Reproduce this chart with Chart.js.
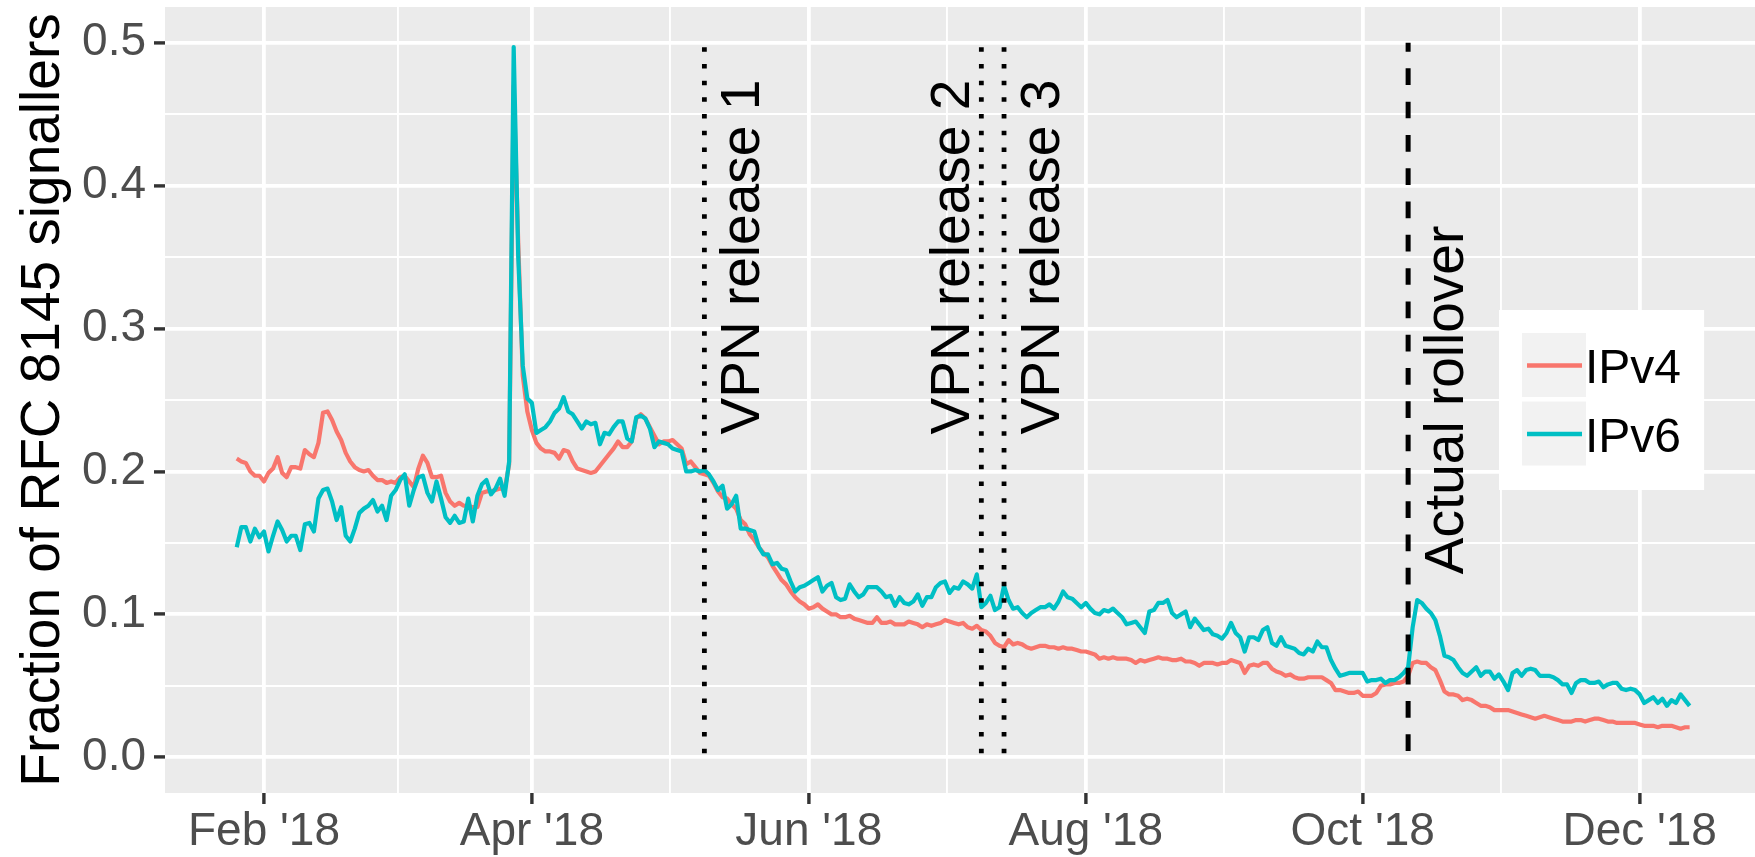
<!DOCTYPE html>
<html><head><meta charset="utf-8">
<script src="https://cdn.jsdelivr.net/npm/chart.js@4.4.1/dist/chart.umd.min.js"></script>
<style>html,body{margin:0;padding:0;background:#fff;}#c{display:block;}</style>
</head><body>
<canvas id="c" width="1755" height="857"></canvas>
<script>
// ---------------- data ----------------
const startDate = '2018-01-26';            // first daily observation
const seriesNames = ['IPv4', 'IPv6'];
const ipv4 = [
0.209,0.207,0.206,0.200,0.197,0.197,0.193,0.199,0.202,0.210,
0.199,0.196,0.203,0.203,0.202,0.215,0.212,0.210,0.220,0.241,
0.242,0.236,0.228,0.222,0.213,0.207,0.203,0.201,0.200,0.201,
0.197,0.194,0.194,0.192,0.193,0.192,0.196,0.197,0.193,0.189,
0.202,0.211,0.206,0.196,0.196,0.197,0.185,0.179,0.176,0.178,
0.176,0.176,0.175,0.175,
0.185,0.186,0.186,0.187,0.188,0.187,0.205,0.470,0.360,0.267,
0.242,0.229,0.220,0.216,0.214,0.214,0.213,0.209,0.215,0.214,
0.207,0.202,0.201,0.200,0.199,0.200,0.204,0.208,0.212,0.216,
0.221,0.217,0.217,0.221,0.237,0.240,0.237,0.231,0.225,0.219,
0.221,0.221,0.222,0.219,0.216,0.205,0.207,0.203,0.199,0.198,
0.197,0.192,
0.186,
0.182,0.181,0.177,0.174,0.166,0.163,0.156,0.152,0.147,0.143,
0.140,0.134,0.129,0.124,0.121,0.116,0.112,0.109,0.107,0.104,
0.105,0.107,0.104,0.102,0.100,0.100,0.098,0.098,0.099,0.097,
0.096,0.095,0.094,0.094,0.098,0.094,0.094,0.095,0.093,0.093,
0.093,0.095,0.094,0.093,0.091,0.093,0.092,0.093,0.094,0.096,
0.095,0.094,0.093,0.094,0.091,
0.090,0.092,0.089,0.088,0.085,0.080,0.078,0.077,0.082,0.079,
0.080,0.079,0.077,0.076,0.077,0.078,0.078,0.077,0.077,0.076,
0.077,0.076,0.076,0.075,0.074,0.074,0.073,0.072,0.069,0.070,
0.069,0.070,0.069,0.069,0.069,0.068,0.066,0.068,0.067,0.068,
0.069,0.070,0.069,0.069,0.068,0.068,0.069,0.067,0.067,0.066,
0.064,0.066,0.066,0.066,0.065,
0.066,0.066,0.068,0.067,0.066,0.059,0.064,0.065,0.064,0.066,
0.066,0.062,0.060,0.059,0.057,0.058,0.056,0.055,0.055,0.056,
0.056,0.056,0.056,0.054,0.052,0.047,0.047,0.046,0.045,0.045,
0.046,0.043,0.043,0.043,0.045,0.050,0.051,0.051,0.052,0.052,
0.053,0.057,0.066,0.067,0.066,0.066,0.063,0.061,0.054,0.046,
0.044,0.044,0.043,0.040,
0.041,0.040,0.038,0.036,0.036,0.035,0.033,0.033,0.033,0.033,
0.032,0.031,0.030,0.029,0.028,0.027,0.028,0.029,0.028,0.027,
0.026,0.025,0.025,0.025,0.026,0.026,0.025,0.026,0.027,0.027,
0.026,0.025,0.025,0.024,0.024,0.024,0.024,0.024,0.023,0.022,
0.022,0.022,0.021,0.022,0.022,0.022,0.021,0.020,0.021,0.021
];
const ipv6 = [
0.147,0.161,0.161,0.151,0.160,0.154,0.158,0.144,0.155,0.165,
0.159,0.151,0.155,0.155,0.145,0.163,0.164,0.158,0.181,0.187,
0.188,0.179,0.166,0.175,0.155,0.151,0.160,0.171,0.174,0.176,
0.180,0.172,0.176,0.166,0.183,0.187,0.194,0.198,0.176,0.187,
0.196,0.197,0.185,0.179,0.193,0.181,0.168,0.164,0.169,0.164,
0.165,0.181,0.165,0.183,
0.191,0.194,0.184,0.188,0.195,0.183,0.207,0.497,0.350,0.274,
0.251,0.248,0.227,0.229,0.231,0.235,0.241,0.244,0.252,0.242,
0.240,0.235,0.230,0.235,0.233,0.234,0.219,0.227,0.226,0.231,
0.235,0.235,0.223,0.221,0.238,0.239,0.237,0.230,0.217,0.221,
0.220,0.219,0.216,0.215,0.214,0.200,0.200,0.201,0.200,0.201,
0.198,0.193,
0.187,
0.190,0.174,0.177,0.183,0.160,0.160,0.159,0.158,0.147,0.142,
0.142,0.135,0.136,0.132,0.131,0.123,0.116,0.119,0.120,0.122,
0.124,0.126,0.116,0.120,0.122,0.112,0.110,0.111,0.121,0.116,
0.112,0.114,0.119,0.119,0.119,0.116,0.112,0.113,0.106,0.112,
0.108,0.107,0.109,0.114,0.106,0.112,0.112,0.119,0.122,0.123,
0.115,0.119,0.118,0.123,0.121,
0.118,0.128,0.105,0.108,0.113,0.103,0.105,0.120,0.110,0.104,
0.105,0.101,0.098,0.101,0.103,0.105,0.105,0.107,0.104,0.109,
0.116,0.112,0.111,0.108,0.105,0.108,0.104,0.101,0.100,0.103,
0.102,0.104,0.101,0.098,0.093,0.094,0.095,0.091,0.087,0.102,
0.103,0.108,0.108,0.110,0.101,0.098,0.100,0.102,0.091,0.097,
0.093,0.089,0.090,0.086,0.085,
0.083,0.087,0.094,0.087,0.084,0.074,0.084,0.084,0.082,0.089,
0.091,0.080,0.078,0.084,0.078,0.077,0.076,0.073,0.072,0.076,
0.074,0.081,0.077,0.077,0.068,0.062,0.057,0.058,0.059,0.059,
0.059,0.059,0.053,0.054,0.054,0.055,0.052,0.054,0.054,0.056,
0.059,0.063,0.091,0.110,0.108,0.104,0.101,0.096,0.085,0.071,
0.070,0.068,0.063,0.059,
0.057,0.060,0.063,0.057,0.060,0.060,0.055,0.058,0.053,0.047,
0.059,0.061,0.057,0.061,0.062,0.061,0.057,0.057,0.057,0.056,
0.054,0.051,0.051,0.045,0.052,0.054,0.054,0.052,0.052,0.053,
0.049,0.051,0.052,0.052,0.048,0.047,0.048,0.047,0.044,0.038,
0.040,0.042,0.038,0.041,0.036,0.040,0.038,0.044,0.040,0.036
];
const xTickDates  = ['2018-02-01','2018-04-01','2018-06-01','2018-08-01','2018-10-01','2018-12-01'];
const xTickLabels = ["Feb '18","Apr '18","Jun '18","Aug '18","Oct '18","Dec '18"];
const yTickValues = [0, 0.1, 0.2, 0.3, 0.4, 0.5];
const yTickLabels = ['0.0','0.1','0.2','0.3','0.4','0.5'];
const eventDates  = ['2018-05-09','2018-07-09','2018-07-14','2018-10-11'];
const eventLabels = ['VPN release 1','VPN release 2','VPN release 3','Actual rollover'];
const yTitle = 'Fraction of RFC 8145 signallers';

// ---------------- helpers ----------------
const DAY0 = Date.UTC(2018, 0, 1);
function dayOf(s) { const p = s.split('-').map(Number); return (Date.UTC(p[0], p[1] - 1, p[2]) - DAY0) / 86400000; }
const start = dayOf(startDate);
const toPoints = arr => arr.map((v, i) => ({ x: start + i, y: v }));

const xMajor = xTickDates.map(dayOf);
const xMinor = [];
for (let i = 0; i < xMajor.length - 1; i++) xMinor.push((xMajor[i] + xMajor[i + 1]) / 2);
xMinor.unshift(xMajor[0] - (xMajor[1] - xMajor[0]) / 2);
xMinor.push(xMajor[xMajor.length - 1] + (xMajor[xMajor.length - 1] - xMajor[xMajor.length - 2]) / 2);
const yMinor = [];
for (let i = 0; i < yTickValues.length - 1; i++) yMinor.push((yTickValues[i] + yTickValues[i + 1]) / 2);

const FONT = '"Liberation Sans", Arial, Helvetica, sans-serif';
const near = (a, b) => Math.abs(a - b) < 1e-6;

function buildTicks(major, minor) {
  return function (scale) {
    const t = [];
    major.forEach(v => { if (v >= scale.min && v <= scale.max) t.push({ value: v, major: true }); });
    minor.forEach(v => { if (v >= scale.min && v <= scale.max) t.push({ value: v, major: false }); });
    t.sort((a, b) => a.value - b.value);
    scale.ticks = t;
  };
}
const gridCfg = {
  color: '#FFFFFF',
  lineWidth: c => (c.tick && c.tick.major) ? 3.8 : 1.9,
  drawTicks: true,
  tickLength: 11,
  tickWidth: 3.4,
  tickColor: c => (c.tick && c.tick.major) ? '#333333' : 'rgba(0,0,0,0)'
};

// ---------------- plugins ----------------
const panelBg = {
  id: 'panelBg',
  beforeDraw(chart) {
    const { ctx, chartArea: a } = chart;
    ctx.save();
    ctx.fillStyle = '#FFFFFF';
    ctx.fillRect(0, 0, chart.width, chart.height);
    ctx.fillStyle = '#EBEBEB';
    ctx.fillRect(a.left, a.top, a.right - a.left, a.bottom - a.top);
    ctx.restore();
  }
};

const eventCfg = {
  span: [0, 0.5],
  labelY: [0.35, 0.35, 0.35, 0.25],
  side: ['right', 'left', 'right', 'right'],
  kind: ['dotted', 'dotted', 'dotted', 'dashed']
};
const events = {
  id: 'events',
  afterDatasetsDraw(chart) {
    const { ctx, scales: { x, y } } = chart;
    ctx.save();
    eventDates.forEach((d, i) => {
      const px = x.getPixelForValue(dayOf(d));
      const y0 = y.getPixelForValue(eventCfg.span[1]);
      const y1 = y.getPixelForValue(eventCfg.span[0]);
      ctx.beginPath();
      ctx.strokeStyle = '#000000';
      ctx.lineCap = 'butt';
      if (eventCfg.kind[i] === 'dotted') {
        ctx.lineWidth = 4.8;
        ctx.setLineDash([4.5, 12.2]);
        ctx.lineDashOffset = 12.2;
      } else {
        ctx.lineWidth = 5;
        ctx.setLineDash([16.7, 16.6]);
        ctx.lineDashOffset = 7.7;
      }
      ctx.moveTo(px, y0);
      ctx.lineTo(px, y1);
      ctx.stroke();
      ctx.setLineDash([]);
      // label
      const bx = eventCfg.side[i] === 'right' ? px + 54.5 : px - 12.5;
      const by = y.getPixelForValue(eventCfg.labelY[i]);
      ctx.save();
      ctx.translate(bx, by);
      ctx.rotate(-Math.PI / 2);
      ctx.fillStyle = '#000000';
      ctx.font = '55px ' + FONT;
      ctx.textAlign = 'center';
      ctx.textBaseline = 'alphabetic';
      ctx.fillText(eventLabels[i], 0, 0);
      ctx.restore();
    });
    ctx.restore();
  }
};

const decorations = {
  id: 'decorations',
  afterDraw(chart) {
    const { ctx, chartArea: a } = chart;
    ctx.save();
    // y-axis title
    ctx.save();
    ctx.translate(59, (a.top + a.bottom) / 2);
    ctx.rotate(-Math.PI / 2);
    ctx.fillStyle = '#000000';
    ctx.font = '55px ' + FONT;
    ctx.textAlign = 'center';
    ctx.textBaseline = 'alphabetic';
    ctx.fillText(yTitle, 0, 0);
    ctx.restore();
    // legend (inside panel, right)
    const w = a.right - a.left, h = a.bottom - a.top;
    const bx0 = a.left + 0.839 * w, bx1 = a.left + 0.968 * w;
    const by0 = a.top + 0.3855 * h, by1 = a.top + 0.6145 * h;
    ctx.fillStyle = '#FFFFFF';
    ctx.fillRect(bx0, by0, bx1 - bx0, by1 - by0);
    const colors = ['#F8766D', '#00BFC4'];
    const keyX = bx0 + 23, keyW = 64;
    const keyTops = [by0 + 23, by0 + 91.5];
    seriesNames.forEach((name, i) => {
      const ky = keyTops[i];
      ctx.fillStyle = '#F2F2F2';
      ctx.fillRect(keyX, ky, keyW, 64);
      ctx.strokeStyle = colors[i];
      ctx.lineWidth = 4.4;
      ctx.lineCap = 'butt';
      ctx.beginPath();
      ctx.moveTo(keyX + 5, ky + 32.5);
      ctx.lineTo(keyX + 60, ky + 32.5);
      ctx.stroke();
      ctx.fillStyle = '#000000';
      ctx.font = '48px ' + FONT;
      ctx.textAlign = 'left';
      ctx.textBaseline = 'alphabetic';
      ctx.fillText(name, keyX + 63, ky + 50);
    });
    ctx.restore();
  }
};

// ---------------- chart ----------------
new Chart(document.getElementById('c'), {
  type: 'line',
  data: {
    datasets: [
      { label: seriesNames[0], data: toPoints(ipv4), borderColor: '#F8766D', order: 2 },
      { label: seriesNames[1], data: toPoints(ipv6), borderColor: '#00BFC4', order: 1 }
    ]
  },
  options: {
    responsive: false,
    animation: false,
    devicePixelRatio: 1,
    layout: { padding: { top: 7, left: 0, right: 0, bottom: 0 } },
    elements: {
      line: { borderWidth: 4.2, tension: 0, borderJoinStyle: 'round', borderCapStyle: 'butt', fill: false },
      point: { radius: 0, hoverRadius: 0 }
    },
    plugins: { legend: { display: false }, tooltip: { enabled: false }, title: { display: false } },
    events: [],
    scales: {
      x: {
        type: 'linear',
        min: 9.2,
        max: 359.4,
        afterBuildTicks: buildTicks(xMajor, xMinor),
        afterFit(s) { s.height = 64; s.paddingLeft = 0; s.paddingRight = 0; },
        border: { display: false },
        grid: gridCfg,
        ticks: {
          autoSkip: false,
          maxRotation: 0,
          minRotation: 0,
          padding: 1,
          color: '#4D4D4D',
          font: { family: FONT, size: 46 },
          callback(v) { const k = xMajor.findIndex(m => near(m, v)); return k >= 0 ? xTickLabels[k] : ''; }
        }
      },
      y: {
        type: 'linear',
        min: -0.025,
        max: 0.525,
        afterBuildTicks: buildTicks(yTickValues, yMinor),
        afterFit(s) { s.width = 165; s.paddingTop = 0; s.paddingBottom = 0; },
        border: { display: false },
        grid: gridCfg,
        ticks: {
          autoSkip: false,
          padding: 8,
          color: '#4D4D4D',
          font: { family: FONT, size: 46 },
          callback(v) { const k = yTickValues.findIndex(m => near(m, v)); return k >= 0 ? yTickLabels[k] : ''; }
        }
      }
    }
  },
  plugins: [panelBg, events, decorations]
});
</script>
</body></html>
